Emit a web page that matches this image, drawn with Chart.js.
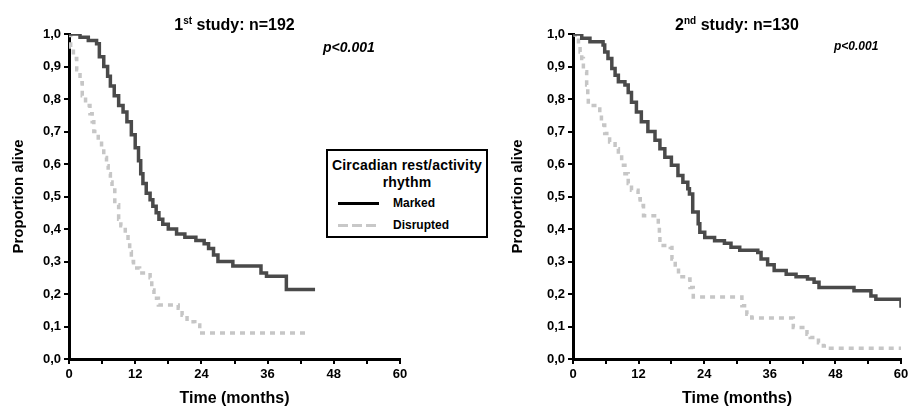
<!DOCTYPE html>
<html lang="en">
<head>
  <meta charset="UTF-8">
  <title>Circadian rest/activity rhythm survival</title>
  <script src="https://cdnjs.cloudflare.com/ajax/libs/Chart.js/4.4.0/chart.umd.min.js"></script>
  <style>
    html, body { margin: 0; padding: 0; background: #fff; overflow: hidden; }
    body { width: 908px; height: 408px; position: relative; font-family: "Liberation Sans", Arial, sans-serif; }
    canvas { position: absolute; top: 0; }
    #legendBox {
      position: absolute; left: 326px; top: 149px; width: 158px; height: 85px;
      border: 2px solid #000; background: #fff; color: #000;
    }
    #legendBox .head { font-weight: bold; font-size: 14px; text-align: center; line-height: 17px; margin-top: 6px; letter-spacing: 0.2px; }
    #legendBox .row { position: absolute; left: 10px; font-weight: bold; font-size: 12px; }
    #legendBox .sample { position: absolute; left: 0; top: 6px; width: 41px; height: 3px; }
    #legendBox .row span { position: absolute; left: 55px; top: 0; white-space: nowrap; }
  </style>
</head>
<body>
  <canvas id="study1" width="454" height="408" style="left:0"></canvas>
  <canvas id="study2" width="470" height="408" style="left:454px"></canvas>

  <div id="legendBox">
    <div class="head">Circadian rest/activity<br>rhythm</div>
    <div class="row" style="top:45px">
      <div class="sample" style="background:#000"></div><span>Marked</span>
    </div>
    <div class="row" style="top:67px">
      <div class="sample" style="background:repeating-linear-gradient(90deg,#c8c8c8 0 10px,transparent 10px 14px)"></div><span>Disrupted</span>
    </div>
  </div>

  <script>
    // months / proportion alive
    const study1MarkedTime = [0, 2, 3.5, 5, 5.5, 6.3, 7, 7.5, 8.2, 9, 9.8, 10.5, 11.3, 12, 12.6, 13, 13.4, 14, 14.7, 15.2, 15.8, 16.3, 17, 18, 19.5, 21, 23, 24.5, 25.3, 26.2, 27, 29.7, 34.8, 35.8, 39.4, 44.6];
    const study1MarkedSurv = [1, 0.99, 0.98, 0.97, 0.93, 0.9, 0.87, 0.84, 0.81, 0.78, 0.76, 0.73, 0.69, 0.65, 0.61, 0.57, 0.54, 0.51, 0.49, 0.47, 0.45, 0.43, 0.415, 0.4, 0.385, 0.375, 0.365, 0.355, 0.34, 0.32, 0.3, 0.286, 0.265, 0.255, 0.214, 0.214];

    const study1DisruptedTime = [0, 0.3, 0.8, 1.4, 2, 2.4, 3, 3.8, 4.2, 4.5, 5.3, 5.9, 6.3, 6.8, 7.1, 7.5, 7.8, 8.3, 9, 9.4, 10.2, 10.7, 11, 11.3, 11.7, 12.8, 14.7, 15, 15.4, 16.2, 19.8, 20.5, 21.4, 22.8, 23.7, 42.8];
    const study1DisruptedSurv = [1, 0.96, 0.925, 0.89, 0.85, 0.81, 0.78, 0.755, 0.73, 0.7, 0.68, 0.65, 0.62, 0.595, 0.57, 0.545, 0.52, 0.475, 0.43, 0.41, 0.385, 0.365, 0.33, 0.3, 0.28, 0.265, 0.25, 0.212, 0.187, 0.166, 0.156, 0.135, 0.115, 0.105, 0.08, 0.08];

    const study2MarkedTime = [0, 1.6, 3.1, 5.5, 5.8, 6.4, 7.1, 7.7, 8.3, 9.5, 10.1, 10.7, 11.6, 12.5, 13.7, 15, 15.9, 16.8, 18, 19.2, 20.1, 21, 21.3, 21.9, 22.9, 23.2, 24.1, 25.9, 27.7, 28.9, 30.5, 33.8, 34.4, 35.6, 36.8, 39, 40.8, 42.9, 44.1, 45, 51.4, 54.5, 55.4, 59.9, 60];
    const study2MarkedSurv = [1, 0.987, 0.976, 0.966, 0.945, 0.925, 0.894, 0.873, 0.853, 0.843, 0.82, 0.79, 0.76, 0.73, 0.7, 0.673, 0.647, 0.621, 0.596, 0.565, 0.544, 0.524, 0.508, 0.452, 0.416, 0.39, 0.374, 0.364, 0.356, 0.344, 0.335, 0.328, 0.308, 0.29, 0.272, 0.261, 0.253, 0.246, 0.236, 0.22, 0.21, 0.194, 0.184, 0.184, 0.158];

    const study2DisruptedTime = [0, 0.4, 1, 1.3, 1.6, 1.9, 2.5, 2.7, 2.8, 4.6, 4.9, 5.2, 5.8, 6.7, 7.7, 8.3, 8.9, 9.5, 10.1, 10.7, 11.9, 12.3, 12.9, 15.6, 15.8, 15.9, 17.8, 18.1, 18.7, 19.3, 20.8, 21.4, 22, 30.9, 31.8, 32.7, 40.3, 42.8, 43.4, 44.9, 45.8, 46.5, 60];
    const study2DisruptedSurv = [1, 0.987, 0.966, 0.945, 0.925, 0.884, 0.843, 0.81, 0.78, 0.776, 0.75, 0.72, 0.694, 0.668, 0.647, 0.627, 0.596, 0.57, 0.54, 0.519, 0.493, 0.472, 0.441, 0.416, 0.385, 0.349, 0.343, 0.308, 0.282, 0.253, 0.246, 0.22, 0.191, 0.164, 0.138, 0.126, 0.097, 0.076, 0.066, 0.05, 0.04, 0.033, 0.033];

    const xLabelMonths = [0, 12, 24, 36, 48, 60];

    const FONT = '"Liberation Sans", Arial, Helvetica, sans-serif';

    function toPoints(times, surv) {
      return times.map((t, i) => ({ x: t, y: surv[i] }));
    }

    // draws the "1st study: n=192" heading with its superscript, and the p value
    const headerPlugin = {
      id: 'header',
      afterDraw(chart, args, o) {
        const { ctx, chartArea } = chart;
        ctx.save();
        ctx.fillStyle = '#000';
        ctx.textBaseline = 'alphabetic';
        ctx.textAlign = 'left';
        const big = 'bold 16px ' + FONT;
        const small = 'bold 10px ' + FONT;
        ctx.font = big;
        const w1 = ctx.measureText(o.num).width;
        const w3 = ctx.measureText(o.rest).width;
        ctx.font = small;
        const w2 = ctx.measureText(o.sup).width;
        let x = (chartArea.left + chartArea.right) / 2 - (w1 + w2 + w3) / 2;
        ctx.font = big;
        ctx.fillText(o.num, x, 30);
        x += w1;
        ctx.font = small;
        ctx.fillText(o.sup, x, 24);
        x += w2;
        ctx.font = big;
        ctx.fillText(o.rest, x, 30);

        ctx.font = o.pFont + ' ' + FONT;
        ctx.fillText('p<0.001', o.pX, o.pY);
        ctx.restore();
      }
    };

    function makeChart(id, marked, disrupted, cfg) {
      return new Chart(document.getElementById(id), {
        type: 'line',
        data: {
          datasets: [
            {
              label: 'Marked',
              data: marked,
              stepped: 'before',
              borderColor: '#4a4a4a',
              borderWidth: 3.5,
              pointRadius: 0,
              fill: false
            },
            {
              label: 'Disrupted',
              data: disrupted,
              stepped: 'before',
              borderColor: '#c6c6c6',
              borderWidth: 3.5,
              borderDash: [5, 5],
              pointRadius: 0,
              fill: false
            }
          ]
        },
        options: {
          responsive: false,
          animation: false,
          events: [],
          layout: { padding: { left: cfg.padLeft, top: 34, right: cfg.padRight, bottom: 0 } },
          plugins: {
            legend: { display: false },
            tooltip: { enabled: false },
            header: cfg.header
          },
          scales: {
            x: {
              type: 'linear',
              min: 0,
              max: 60,
              afterFit: s => { s.height = 49; },
              ticks: {
                stepSize: 6,
                autoSkip: false,
                maxRotation: 0,
                padding: 3,
                color: '#000',
                font: { family: FONT, size: 13, weight: 'bold' },
                callback: v => xLabelMonths.includes(v) ? String(v) : ''
              },
              grid: { drawOnChartArea: false, tickLength: 5, color: '#000', lineWidth: 2 },
              border: { color: '#000', width: 3 },
              title: {
                display: true,
                text: 'Time (months)',
                color: '#000',
                padding: { top: 0, bottom: 0 },
                font: { family: FONT, size: 16, weight: 'bold' }
              }
            },
            y: {
              min: 0,
              max: 1,
              afterFit: s => { s.width = cfg.yWidth; },
              ticks: {
                stepSize: 0.1,
                padding: 3,
                color: '#000',
                font: { family: FONT, size: 13, weight: 'bold' },
                callback: v => v.toFixed(1).replace('.', ',')
              },
              grid: { drawOnChartArea: false, tickLength: 5, color: '#000', lineWidth: 2 },
              border: { color: '#000', width: 3 },
              title: {
                display: true,
                text: 'Proportion alive',
                color: '#000',
                padding: { top: 4, bottom: 4 },
                font: { family: FONT, size: 15, weight: 'bold' }
              }
            }
          }
        },
        plugins: [headerPlugin]
      });
    }

    makeChart('study1',
      toPoints(study1MarkedTime, study1MarkedSurv),
      toPoints(study1DisruptedTime, study1DisruptedSurv),
      {
        padLeft: 6, yWidth: 63, padRight: 54,
        header: { num: '1', sup: 'st', rest: ' study: n=192', pFont: 'italic bold 14px', pX: 323, pY: 52 }
      });

    makeChart('study2',
      toPoints(study2MarkedTime, study2MarkedSurv),
      toPoints(study2DisruptedTime, study2DisruptedSurv),
      {
        padLeft: 51, yWidth: 68, padRight: 23,
        header: { num: '2', sup: 'nd', rest: ' study: n=130', pFont: 'italic bold 12px', pX: 380, pY: 50 }
      });
  </script>
</body>
</html>
